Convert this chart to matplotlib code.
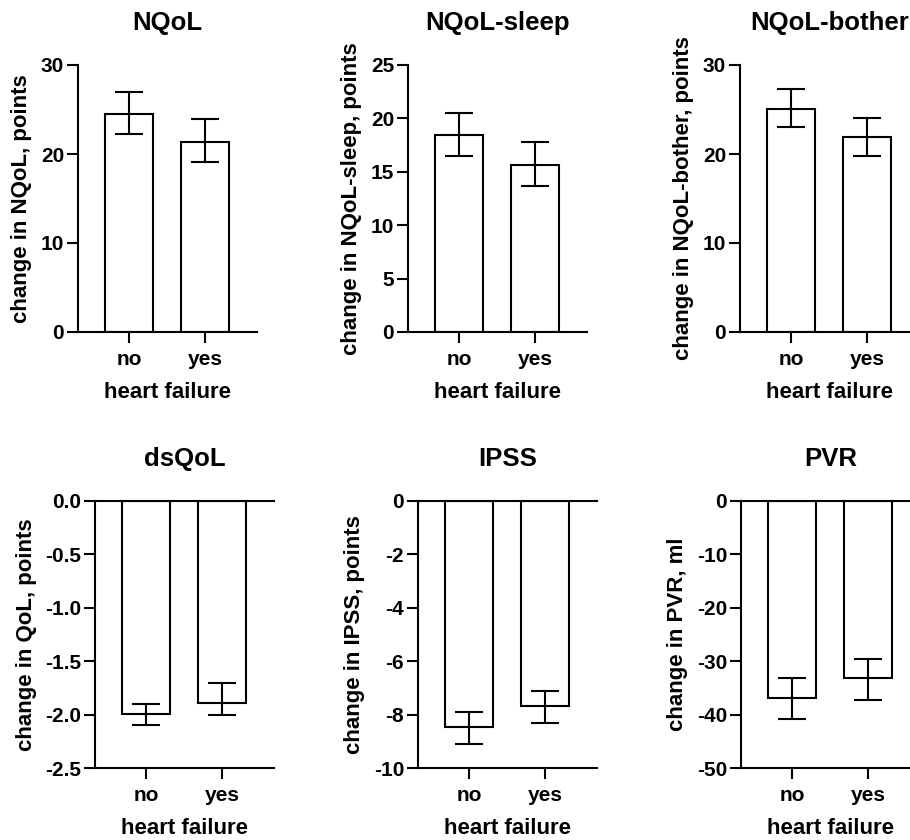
import matplotlib.pyplot as plt
import numpy as np

plt.rcParams.update({'font.family': 'Liberation Sans', 'font.weight': 'bold',
                     'axes.labelweight': 'bold', 'axes.titleweight': 'bold'})

groups = ['no', 'yes']
x_label = 'heart failure'

titles = ['NQoL', 'NQoL-sleep', 'NQoL-bother', 'dsQoL', 'IPSS', 'PVR']
y_labels = ['change in NQoL, points', 'change in NQoL-sleep, points',
            'change in NQoL-bother, points', 'change in QoL, points',
            'change in IPSS, points', 'change in PVR, ml']

# mean, lower and upper bound of the interval for each group
means = [[24.5, 21.4], [18.4, 15.6], [25.1, 21.9],
         [-1.99, -1.89], [-8.45, -7.67], [-36.8, -33.2]]
lower = [[22.3, 19.1], [16.5, 13.7], [23.0, 19.8],
         [-2.10, -2.00], [-9.1, -8.3], [-40.9, -37.3]]
upper = [[27.0, 23.9], [20.5, 17.8], [27.3, 24.1],
         [-1.90, -1.70], [-7.9, -7.1], [-33.2, -29.5]]

y_limits = [(0, 30), (0, 25), (0, 30), (-2.5, 0), (-10, 0), (-50, 0)]
y_ticks = [[0, 10, 20, 30], [0, 5, 10, 15, 20, 25], [0, 10, 20, 30],
           [-2.5, -2.0, -1.5, -1.0, -0.5, 0.0], [-10, -8, -6, -4, -2, 0],
           [-50, -40, -30, -20, -10, 0]]
tick_fmt = ['{:.0f}', '{:.0f}', '{:.0f}', '{:.1f}', '{:.0f}', '{:.0f}']

# axes boxes in pixels: left, top
W, H = 910, 840
boxes = [(78, 65), (408, 65), (740, 65), (95, 501), (418, 501), (741, 501)]
ax_w, ax_h = 179, 267

lw = 1.5
fig = plt.figure(figsize=(W / 100, H / 100), dpi=100)

for i in range(6):
    left, top = boxes[i]
    ax = fig.add_axes([left / W, 1 - (top + ax_h) / H, ax_w / W, ax_h / H])
    x = np.arange(len(groups))
    m = np.array(means[i])
    err = np.array([m - np.array(lower[i]), np.array(upper[i]) - m])
    ax.bar(x, m, width=0.63, color='white', edgecolor='black', linewidth=lw, zorder=2)
    ax.errorbar(x, m, yerr=err, fmt='none', ecolor='black', elinewidth=lw,
                capsize=10, capthick=lw, zorder=3)
    ax.set_xlim(-0.67, 1.68)
    ax.set_ylim(*y_limits[i])
    ax.set_yticks(y_ticks[i])
    ax.set_yticklabels([tick_fmt[i].format(v) for v in y_ticks[i]])
    ax.set_xticks(x)
    ax.set_xticklabels(groups)

    ax.spines['right'].set_visible(False)
    ax.spines['top'].set_visible(y_limits[i][1] == 0)
    for s in ax.spines.values():
        s.set_linewidth(lw)
    ax.tick_params(axis='both', length=8, width=lw, labelsize=15, pad=2)
    ax.tick_params(axis='x', pad=5)

    ax.set_title(titles[i], fontsize=18.5, pad=25)
    ax.set_xlabel(x_label, fontsize=16, labelpad=9)
    ax.set_ylabel(y_labels[i], fontsize=16, labelpad=6)

fig.savefig('out.png', dpi=100)
